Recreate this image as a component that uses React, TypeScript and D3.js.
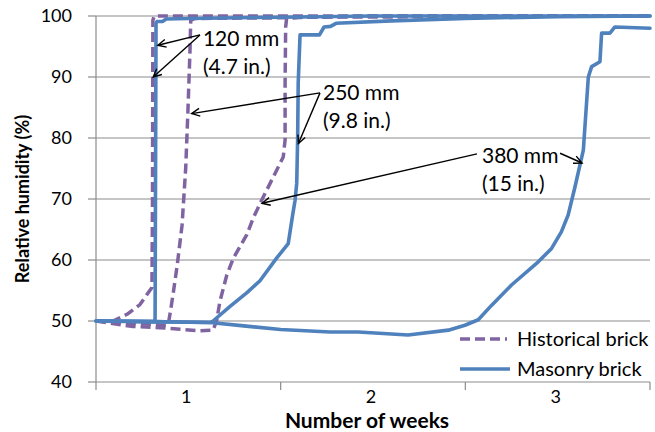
import React from 'react';
import * as d3 from 'd3';

// ---- data (x = weeks, y = relative humidity %) ----
const weekLabels = ['1', '2', '3'];
const yTickValues = [40, 50, 60, 70, 80, 90, 100];

const hist120: [number, number][] = [
  [0, 50], [0.092, 50], [0.168, 51.1], [0.238, 52.7], [0.303, 55.5],
  [0.306, 70], [0.308, 99.3], [0.315, 100], [1.5, 100], [3, 100],
];
const hist250: [number, number][] = [
  [0, 50], [0.2, 49.6], [0.39, 49.3], [0.4, 51], [0.417, 54.3], [0.44, 59.2],
  [0.466, 65.7], [0.486, 75.2], [0.498, 84.6], [0.509, 94.4], [0.513, 99.3],
  [0.536, 99.6], [1.0, 99.7], [1.5, 100], [3, 100],
];
const hist380: [number, number][] = [
  [0, 50], [0.2, 49.1], [0.347, 48.9], [0.563, 48.4], [0.634, 48.5], [0.653, 50],
  [0.671, 53.2], [0.708, 57.5], [0.744, 60.3], [0.816, 64.1], [0.852, 66.9],
  [0.897, 69.8], [0.96, 73.6], [1.014, 76.9], [1.024, 79.7], [1.024, 89],
  [1.027, 98.2], [1.032, 99.5], [1.1, 99.8], [3, 100],
];
const mas120: [number, number][] = [
  [0, 50], [0.15, 49.95], [0.318, 49.9], [0.32, 50.5], [0.322, 70], [0.325, 98.8],
  [0.33, 99.1], [0.36, 99.1], [0.38, 99.5], [0.5, 99.6], [1.0, 99.8], [1.5, 100], [3, 100],
];
const mas250: [number, number][] = [
  [0, 50], [0.3, 49.9], [0.617, 49.75], [0.634, 50], [0.726, 52.4], [0.816, 54.6],
  [0.888, 56.6], [0.978, 60.3], [1.041, 62.7], [1.065, 67.4], [1.078, 69.8],
  [1.087, 72.6], [1.092, 80], [1.095, 89], [1.105, 96.9], [1.21, 96.9],
  [1.235, 98.2], [1.27, 98.3], [1.3, 98.8], [1.6, 99.2], [2.0, 99.6], [2.5, 99.9], [3, 100],
];
const mas380: [number, number][] = [
  [0, 50], [0.3, 49.9], [0.617, 49.75], [0.8, 49.2], [1.0, 48.6], [1.267, 48.2],
  [1.42, 48.2], [1.69, 47.7], [1.908, 48.5], [1.998, 49.3], [2.07, 50.2],
  [2.143, 52.6], [2.25, 55.9], [2.395, 59.7], [2.467, 61.9], [2.52, 64.6],
  [2.557, 67.4], [2.594, 72], [2.639, 78], [2.666, 90], [2.684, 91.7],
  [2.729, 92.5], [2.738, 97.2], [2.783, 97.2], [2.81, 98.2], [3.0, 98],
];

const histSeries = [hist120, hist250, hist380];
const masonrySeries = [mas120, mas250, mas380];

const annotationLabels = [
  ['120 mm', '(4.7 in.)'],
  ['250 mm', '(9.8 in.)'],
  ['380 mm', '(15 in.)'],
];
// label anchor (weeks, RH)
const annotationAnchors: [number, number][] = [[0.579, 96.4], [1.229, 87.4], [2.09, 77.2]];
// arrows: [from, to] in (weeks, RH)
const annotationArrows: [[number, number], [number, number]][] = [
  [[0.563, 96.9], [0.335, 95.2]],
  [[0.563, 96.9], [0.31, 90]],
  [[1.213, 87.4], [0.518, 84.0]],
  [[1.213, 87.4], [1.096, 79.1]],
  [[2.063, 77.4], [0.899, 69.3]],
  [[2.513, 77.5], [2.632, 75.9]],
];

const legendNames = ['Historical brick', 'Masonry brick'];

const W = 655;
const H = 432;
const left = 96;
const right = 650;
const top = 16;
const bottom = 382;

const BLUE = '#4F81BD';
const PURPLE = '#8064A2';
const GRID = '#8c8c8c';
const FONT = 'Lato, "Open Sans", sans-serif';

export default function App() {
  const x = d3.scaleLinear().domain([0, 3]).range([left, right]);
  const y = d3.scaleLinear().domain([40, 100]).range([bottom, top]);
  const line = d3
    .line<[number, number]>()
    .x((d) => x(d[0]))
    .y((d) => y(d[1]))
    .curve(d3.curveLinear);

  const arrowHead = (from: [number, number], to: [number, number]) => {
    const x1 = x(from[0]), y1 = y(from[1]), x2 = x(to[0]), y2 = y(to[1]);
    const ang = Math.atan2(y2 - y1, x2 - x1);
    const len = 9;
    const spread = 0.45;
    const a1 = ang + Math.PI - spread;
    const a2 = ang + Math.PI + spread;
    return `M${x2 + len * Math.cos(a1)},${y2 + len * Math.sin(a1)}L${x2},${y2}L${x2 + len * Math.cos(a2)},${y2 + len * Math.sin(a2)}`;
  };

  return (
    <svg
      width={W}
      height={H}
      style={{ position: 'absolute', left: 0, top: 0, background: '#fff' }}
      fontFamily={FONT}
    >
      <rect width={W} height={H} fill="#fff" />
      {/* gridlines */}
      {yTickValues.filter((v) => v > 40).map((v) => (
        <line key={'g' + v} x1={left} x2={right} y1={y(v)} y2={y(v)} stroke={GRID} strokeWidth={1.2} />
      ))}
      {/* y axis */}
      <line x1={left} x2={left} y1={top} y2={bottom} stroke={GRID} strokeWidth={1.2} />
      {yTickValues.map((v) => (
        <g key={'yt' + v}>
          <line x1={left - 8} x2={left} y1={y(v)} y2={y(v)} stroke={GRID} strokeWidth={1.2} />
          <text x={left - 24} y={y(v)} dy="0.36em" textAnchor="end" fontSize={18} fill="#000">
            {v}
          </text>
        </g>
      ))}
      {/* x axis */}
      <line x1={left} x2={right} y1={bottom} y2={bottom} stroke={GRID} strokeWidth={1.2} />
      {[0, 1, 2, 3].map((v) => (
        <line key={'xt' + v} x1={x(v)} x2={x(v)} y1={bottom} y2={bottom + 8} stroke={GRID} strokeWidth={1.2} />
      ))}
      {weekLabels.map((lab, i) => (
        <text key={'xl' + i} x={x(i + 0.5) - 2} y={bottom + 15} dy="0.36em" textAnchor="middle" fontSize={18} fill="#000">
          {lab}
        </text>
      ))}
      {/* axis titles */}
      <text x={(left + right) / 2 - 6} y={bottom + 38} dy="0.36em" textAnchor="middle" fontSize={21} fontWeight="bold" fill="#000">
        Number of weeks
      </text>
      <text
        transform={`translate(23,${(top + bottom) / 2}) rotate(-90)`}
        textAnchor="middle"
        dy="0.36em"
        fontSize={18}
        fontWeight="bold"
        fill="#000"
      >
        Relative humidity (%)
      </text>

      {/* series */}
      {histSeries.map((s, i) => (
        <path key={'h' + i} d={line(s) || ''} fill="none" stroke={PURPLE} strokeWidth={3.5} strokeDasharray="10,5" strokeLinejoin="round" />
      ))}
      {masonrySeries.map((s, i) => (
        <path key={'m' + i} d={line(s) || ''} fill="none" stroke={BLUE} strokeWidth={3.6} strokeLinejoin="round" strokeLinecap="round" />
      ))}

      {/* annotations */}
      {annotationArrows.map(([f, t], i) => (
        <g key={'a' + i} stroke="#000" strokeWidth={1.4} fill="none">
          <line x1={x(f[0])} y1={y(f[1])} x2={x(t[0])} y2={y(t[1])} />
          <path d={arrowHead(f, t)} />
        </g>
      ))}
      {annotationLabels.map((lines, i) => (
        <g key={'t' + i}>
          {lines.map((ln, j) => (
            <text key={j} x={x(annotationAnchors[i][0])} y={y(annotationAnchors[i][1]) + j * 28} dy="0.36em" fontSize={21} fill="#000">
              {ln}
            </text>
          ))}
        </g>
      ))}

      {/* legend */}
      <g>
        <line x1={460} x2={507} y1={339} y2={339} stroke={PURPLE} strokeWidth={3.5} strokeDasharray="10,5" />
        <text x={517} y={339} dy="0.36em" fontSize={20} fill="#000">{legendNames[0]}</text>
        <line x1={460} x2={510} y1={369} y2={369} stroke={BLUE} strokeWidth={3.6} />
        <text x={517} y={369} dy="0.36em" fontSize={20} fill="#000">{legendNames[1]}</text>
      </g>
    </svg>
  );
}
